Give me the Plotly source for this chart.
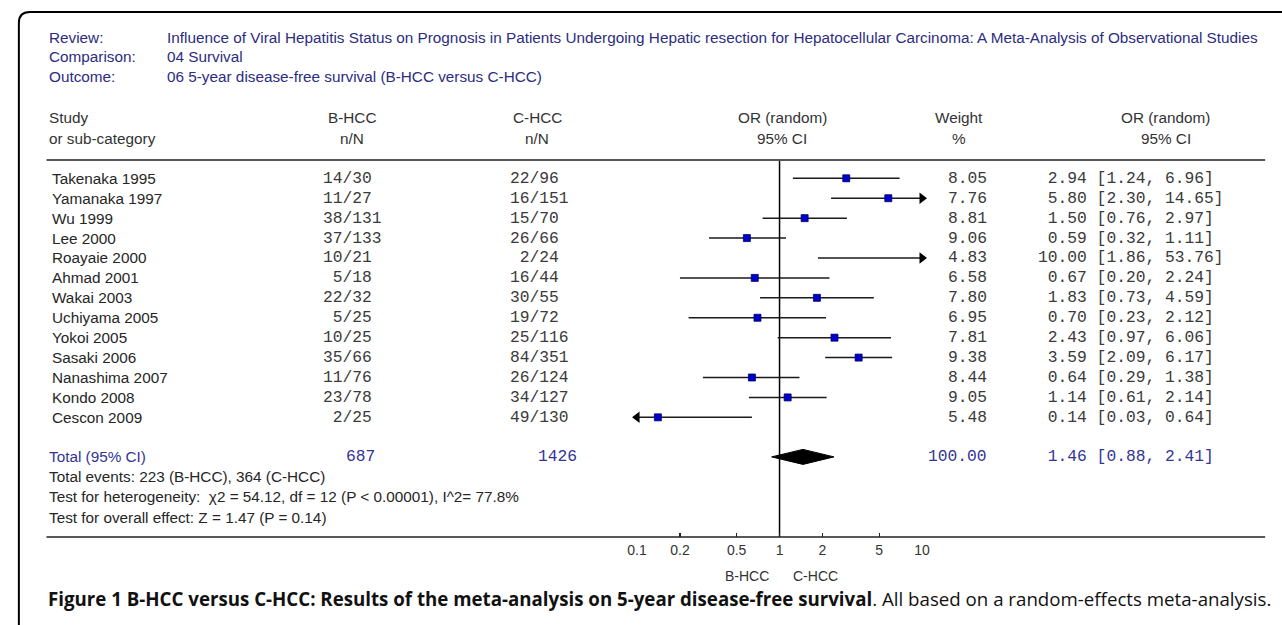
import plotly.graph_objects as go

W, H = 1282, 625

studies = ["Takenaka 1995", "Yamanaka 1997", "Wu 1999", "Lee 2000", "Roayaie 2000",
           "Ahmad 2001", "Wakai 2003", "Uchiyama 2005", "Yokoi 2005", "Sasaki 2006",
           "Nanashima 2007", "Kondo 2008", "Cescon 2009"]
b_events = [14, 11, 38, 37, 10, 5, 22, 5, 10, 35, 11, 23, 2]
b_total = [30, 27, 131, 133, 21, 18, 32, 25, 25, 66, 76, 78, 25]
c_events = [22, 16, 15, 26, 2, 16, 30, 19, 25, 84, 26, 34, 49]
c_total = [96, 151, 70, 66, 24, 44, 55, 72, 116, 351, 124, 127, 130]
weights = [8.05, 7.76, 8.81, 9.06, 4.83, 6.58, 7.80, 6.95, 7.81, 9.38, 8.44, 9.05, 5.48]
or_est = [2.94, 5.80, 1.50, 0.59, 10.00, 0.67, 1.83, 0.70, 2.43, 3.59, 0.64, 1.14, 0.14]
or_lo = [1.24, 2.30, 0.76, 0.32, 1.86, 0.20, 0.73, 0.23, 0.97, 2.09, 0.29, 0.61, 0.03]
or_hi = [6.96, 14.65, 2.97, 1.11, 53.76, 2.24, 4.59, 2.12, 6.06, 6.17, 1.38, 2.14, 0.64]

total_b_n, total_c_n = 687, 1426
total_b_events, total_c_events = 223, 364
total_weight = 100.00
pooled_est, pooled_lo, pooled_hi = 1.46, 0.88, 2.41

tick_vals = [0.1, 0.2, 0.5, 1, 2, 5, 10]
tick_text = ["0.1", "0.2", "0.5", "1", "2", "5", "10"]
axis_min, axis_max = 0.1, 10

review = ("Influence of Viral Hepatitis Status on Prognosis in Patients Undergoing Hepatic "
          "resection for Hepatocellular Carcinoma: A Meta-Analysis of Observational Studies")
comparison = "04 Survival"
outcome = "06 5-year disease-free survival (B-HCC versus C-HCC)"

# ---------------- layout constants ----------------
SANS = "Liberation Sans, Arial, sans-serif"
MONO = "Liberation Mono, Courier New, monospace"
NAVY = "rgb(44,44,128)"
BLUE = "rgb(52,52,150)"
DARK = "#262626"
FS = 15.3
MS = 16.3

row0, row_step = 178.3, 19.92
rows_y = [row0 + i * row_step for i in range(len(studies))]
total_y = row0 + (len(studies) + 1) * row_step - 0.3
axis_y = 537

def px(x):
    return x / W

def py(y):
    return 1 - y / H

annotations = []

def txt(x, y, s, anchor="left", font=SANS, size=FS, color=DARK):
    annotations.append(dict(x=px(x), y=py(y), xref="paper", yref="paper", text=s,
                            showarrow=False, xanchor=anchor, yanchor="middle",
                            font=dict(family=font, size=size, color=color)))

# header block
txt(38, 38, "Review:", color=NAVY)
txt(157, 38, review, color=NAVY)
txt(38, 57, "Comparison:", color=NAVY)
txt(157, 57, comparison, color=NAVY)
txt(38, 76, "Outcome:", color=NAVY)
txt(157, 76, outcome, color=NAVY)

# column headers
h1, h2 = 117, 138
txt(38, h1, "Study", color="#333")
txt(38, h2, "or sub-category", color="#333")
for cx, a, b in [(347, "B-HCC", "n/N"), (535, "C-HCC", "n/N"), (783, "OR (random)", "95% CI"),
                 (963, "Weight", "%"), (1172, "OR (random)", "95% CI")]:
    txt(cx, h1, a, anchor="center", color="#333")
    txt(cx, h2, b, anchor="center", color="#333")

# study rows
MCOL = "#3a3a3a"
for i, s in enumerate(studies):
    y = rows_y[i]
    txt(41, y, s)
    txt(315, y, f"{b_events[i]:>2d}/{b_total[i]}", font=MONO, size=MS, color=MCOL)
    txt(505, y, f"{c_events[i]:>2d}/{c_total[i]}", font=MONO, size=MS, color=MCOL)
    txt(993, y, f"{weights[i]:.2f}", anchor="right", font=MONO, size=MS, color=MCOL)
    txt(1041, y, f"{or_est[i]:>5.2f} [{or_lo[i]:.2f}, {or_hi[i]:.2f}]", font=MONO, size=MS, color=MCOL)

# totals
txt(38, total_y, "Total (95% CI)", color=BLUE)
txt(339, total_y, f"{total_b_n}", font=MONO, size=MS, color=BLUE)
txt(533, total_y, f"{total_c_n}", font=MONO, size=MS, color=BLUE)
txt(993, total_y, f"{total_weight:.2f}", anchor="right", font=MONO, size=MS, color=BLUE)
txt(1041, total_y, f"{pooled_est:>5.2f} [{pooled_lo:.2f}, {pooled_hi:.2f}]", font=MONO, size=MS, color=BLUE)
txt(38, 476, f"Total events: {total_b_events} (B-HCC), {total_c_events} (C-HCC)")
txt(38, 496, "Test for heterogeneity:  χ2 = 54.12, df = 12 (P < 0.00001), I^2= 77.8%")
txt(38, 517, "Test for overall effect: Z = 1.47 (P = 0.14)")

# favours labels
txt(747, 576, "B-HCC", anchor="center", size=14, color="#333")
txt(817, 576, "C-HCC", anchor="center", size=14, color="#333")

# caption
txt(37, 598, "<b>Figure 1 B-HCC versus C-HCC: Results of the meta-analysis on 5-year disease-free survival</b>. "
             "All based on a random-effects meta-analysis.", font="Open Sans, sans-serif", size=18.7, color="#111")

# ---------------- traces ----------------
fig = go.Figure()

# line of no effect
fig.add_trace(go.Scatter(x=[1, 1], y=[160, axis_y], mode="lines",
                         line=dict(color="black", width=1.5), hoverinfo="skip"))

# CI lines (clipped to axis range)
cx, cy = [], []
right_x, right_y, left_x, left_y = [], [], [], []
for i in range(len(studies)):
    lo = max(or_lo[i], axis_min)
    hi = min(or_hi[i], axis_max)
    cx += [lo, hi, None]
    cy += [rows_y[i], rows_y[i], None]
    if or_hi[i] > axis_max:
        right_x.append(axis_max); right_y.append(rows_y[i])
    if or_lo[i] < axis_min:
        left_x.append(axis_min); left_y.append(rows_y[i])
fig.add_trace(go.Scatter(x=cx, y=cy, mode="lines", line=dict(color="#1a1a1a", width=1.5),
                         hoverinfo="skip"))
fig.add_trace(go.Scatter(x=right_x, y=right_y, mode="markers", cliponaxis=False,
                         marker=dict(symbol="triangle-right", size=10, color="black"),
                         hoverinfo="skip"))
fig.add_trace(go.Scatter(x=left_x, y=left_y, mode="markers", cliponaxis=False,
                         marker=dict(symbol="triangle-left", size=10, color="black"),
                         hoverinfo="skip"))

# point estimates
sx = [e for e in or_est if axis_min < e < axis_max]
sy = [rows_y[i] for i, e in enumerate(or_est) if axis_min < e < axis_max]
fig.add_trace(go.Scatter(x=sx, y=sy, mode="markers",
                         marker=dict(symbol="square", size=7, color="#0000c8",
                                     line=dict(color="#00006a", width=0.8)),
                         hoverinfo="skip"))

# pooled diamond
dh = 7.5
fig.add_trace(go.Scatter(x=[pooled_lo, pooled_est, pooled_hi, pooled_est, pooled_lo],
                         y=[total_y, total_y - dh, total_y, total_y + dh, total_y],
                         mode="lines", fill="toself", fillcolor="black",
                         line=dict(color="black", width=1), hoverinfo="skip"))

# ---------------- shapes ----------------
shapes = [
    dict(type="line", xref="paper", yref="paper", x0=px(37), x1=px(1273), y0=py(160), y1=py(160),
         line=dict(color="#555", width=2)),
    dict(type="line", xref="paper", yref="paper", x0=px(37), x1=px(1273), y0=py(axis_y), y1=py(axis_y),
         line=dict(color="#222", width=1.5)),
    dict(type="path", xref="paper", yref="paper",
         path=f"M {px(9)},{py(640)} L {px(9)},{py(23)} Q {px(9)},{py(12)} {px(20)},{py(12)} L {px(1300)},{py(12)}",
         line=dict(color="black", width=2)),
]

fig.update_layout(
    width=W, height=H, margin=dict(l=0, r=0, t=0, b=0),
    paper_bgcolor="white", plot_bgcolor="rgba(0,0,0,0)",
    showlegend=False, annotations=annotations, shapes=shapes,
    xaxis=dict(type="log", range=[-1, 1], domain=[px(636), px(925)], anchor="free",
               position=py(axis_y), showgrid=False, zeroline=False, showline=False,
               ticks="inside", ticklen=4, tickwidth=1.2, tickcolor="#222",
               tickvals=tick_vals, ticktext=tick_text, ticklabelstandoff=3,
               tickfont=dict(family=SANS, size=14, color="#333"), fixedrange=True),
    yaxis=dict(range=[H, 0], domain=[0, 1], visible=False, fixedrange=True),
)

fig.write_html("out.html", config={"displayModeBar": False, "staticPlot": True},
               post_script="document.body.style.margin='0';document.body.style.overflow='hidden';")
